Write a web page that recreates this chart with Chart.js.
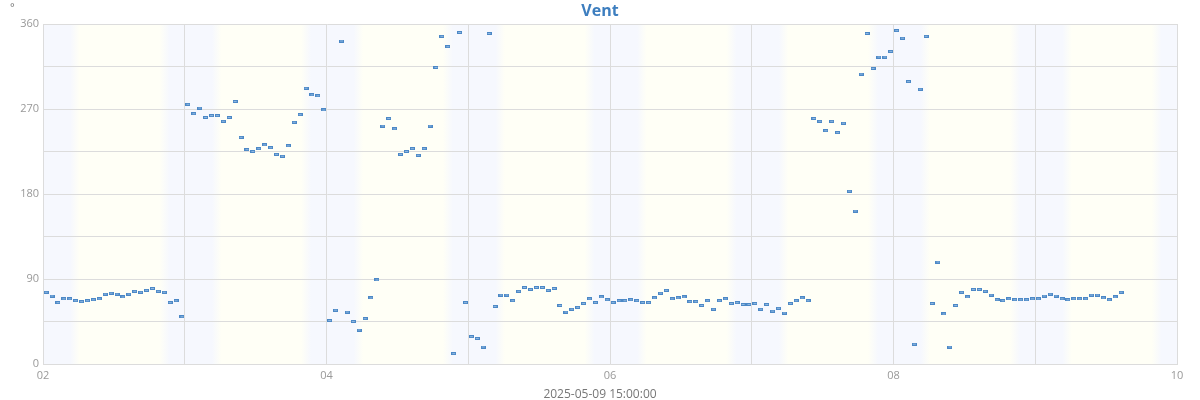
<!DOCTYPE html>
<html lang="fr">
<head>
<meta charset="utf-8">
<title>Vent</title>
<script src="https://cdn.jsdelivr.net/npm/chart.js@4.4.1/dist/chart.umd.min.js"></script>
<style>
  body { margin: 0; background: #fff; }
  #graphe { display: block; }
</style>
</head>
<body>
<canvas id="graphe" width="1200" height="400"></canvas>
<script>
// direction du vent (°), une mesure par heure, relevée à HH:32
const premiereMesure = Date.UTC(2025, 4, 2, 0, 32)
const pasMesure = 3600 * 1000

const vent02 = [76, 72, 65, 69, 69, 67, 66, 67, 68, 69, 74, 75, 74, 71, 74, 77, 76, 78, 80, 77, 76, 65, 67, 50]
const vent03 = [275, 265, 271, 261, 263, 263, 257, 261, 278, 240, 227, 225, 228, 232, 229, 222, 220, 231, 256, 264, 292, 285, 284, 269]
const vent04 = [46, 57, 342, 55, 45, 36, 48, 70, 89, 252, 260, 249, 222, 225, 228, 221, 228, 252, 314, 347, 336, 11, 351, 65]
const vent05 = [29, 27, 18, 350, 61, 73, 73, 67, 77, 81, 79, 81, 81, 78, 80, 62, 55, 58, 60, 64, 69, 65, 71, 68]
const vent06 = [65, 67, 67, 68, 67, 65, 65, 70, 75, 78, 69, 70, 71, 66, 66, 62, 67, 58, 67, 69, 64, 65, 63, 63]
const vent07 = [64, 58, 63, 56, 59, 54, 64, 67, 70, 67, 260, 257, 247, 257, 245, 255, 183, 162, 307, 350, 313, 325, 325, 331]
const vent08 = [353, 345, 299, 21, 291, 347, 64, 108, 53, 18, 62, 76, 71, 79, 79, 77, 73, 68, 67, 69, 68, 68, 68, 69]
const vent09 = [69, 72, 74, 72, 69, 68, 69, 69, 69, 73, 73, 70, 68, 71, 76]

const directions = [].concat(vent02, vent03, vent04, vent05, vent06, vent07, vent08, vent09)

const graduationsY = [0, 90, 180, 270, 360]
const joursAffiches = [2, 4, 6, 8, 10]

const titre = 'Vent'
const uniteY = '°'
const titreX = '2025-05-09 15:00:00'

const debutAxe = Date.UTC(2025, 4, 2)
const finAxe = Date.UTC(2025, 4, 10)
const unJour = 24 * 3600 * 1000

// aube et crépuscule en heures (dégradé entre les deux valeurs)
const aube = [4.6, 6.2]
const crepuscule = [19.7, 21.4]

const couleurNuit = '#f6f8fe'
const couleurJour = '#fffff6'

const police = "'Open Sans', 'Noto Sans', sans-serif"

const points = directions.map(function(valeur, i) {
  return { x: premiereMesure + i * pasMesure, y: valeur }
})

// petite marque rectangulaire pour chaque mesure
const marque = document.createElement('canvas')
marque.width = 5
marque.height = 3
const cm = marque.getContext('2d')
cm.fillStyle = '#4c88c6'
cm.fillRect(0, 0, 5, 3)
cm.fillStyle = '#8fb8e2'
cm.fillRect(1, 1, 3, 1)

const fondJourNuit = {
  id: 'fondJourNuit',
  beforeDraw: function(chart) {
    const ctx = chart.ctx
    const zone = chart.chartArea
    const echelle = chart.scales.x
    ctx.save()
    ctx.beginPath()
    ctx.rect(zone.left, zone.top, zone.right - zone.left, zone.bottom - zone.top)
    ctx.clip()
    ctx.fillStyle = couleurNuit
    ctx.fillRect(zone.left, zone.top, zone.right - zone.left, zone.bottom - zone.top)
    for (let j = debutAxe; j < finAxe; j += unJour) {
      const x0 = echelle.getPixelForValue(j + aube[0] * 3600000)
      const x1 = echelle.getPixelForValue(j + aube[1] * 3600000)
      const x2 = echelle.getPixelForValue(j + crepuscule[0] * 3600000)
      const x3 = echelle.getPixelForValue(j + crepuscule[1] * 3600000)
      const degrade = ctx.createLinearGradient(x0, 0, x3, 0)
      const largeur = x3 - x0
      degrade.addColorStop(0, couleurNuit)
      degrade.addColorStop((x1 - x0) / largeur, couleurJour)
      degrade.addColorStop((x2 - x0) / largeur, couleurJour)
      degrade.addColorStop(1, couleurNuit)
      ctx.fillStyle = degrade
      ctx.fillRect(x0, zone.top, largeur, zone.bottom - zone.top)
    }
    ctx.restore()
  },
  // titre, unité et légende de l'axe x, centrés sur toute la largeur
  afterDraw: function(chart) {
    const ctx = chart.ctx
    const milieu = chart.width / 2
    ctx.save()
    ctx.textBaseline = 'alphabetic'

    ctx.fillStyle = '#3d7ebf'
    ctx.font = 'bold 16px ' + police
    ctx.textAlign = 'center'
    ctx.fillText(titre, milieu, 15.5)

    ctx.fillStyle = '#777'
    ctx.font = '12px ' + police
    ctx.fillText(titreX, milieu, 398)

    ctx.font = '11px ' + police
    ctx.textAlign = 'left'
    ctx.textBaseline = 'top'
    ctx.fillText(uniteY, 10, 2)
    ctx.restore()
  }
}

new Chart(document.getElementById('graphe'), {
  type: 'scatter',
  data: {
    datasets: [{
      data: points,
      pointStyle: marque,
      pointRadius: 3,
      showLine: false
    }]
  },
  options: {
    responsive: false,
    animation: false,
    layout: { padding: { top: 24, right: 23, bottom: 0, left: 0 } },
    plugins: {
      legend: { display: false },
      tooltip: { enabled: false },
      title: { display: false }
    },
    scales: {
      x: {
        type: 'linear',
        min: debutAxe,
        max: finAxe,
        afterFit: function(scale) { scale.height = 36 },
        grid: { color: '#dcdcdc', drawTicks: false },
        border: { color: '#dcdcdc' },
        ticks: {
          stepSize: unJour,
          maxRotation: 0,
          autoSkip: false,
          padding: 5,
          color: '#999',
          font: { family: police, size: 11 },
          callback: function(valeur) {
            const jour = new Date(valeur).getUTCDate()
            if (!joursAffiches.includes(jour)) return ''
            return String(jour).padStart(2, '0')
          }
        }
      },
      y: {
        min: 0,
        max: 360,
        afterFit: function(scale) { scale.width = 43 },
        grid: { color: '#dcdcdc', drawTicks: false },
        border: { color: '#dcdcdc' },
        ticks: {
          stepSize: 45,
          padding: 4,
          color: '#999',
          font: { family: police, size: 11 },
          callback: function(valeur) {
            return graduationsY.includes(valeur) ? valeur : ''
          }
        }
      }
    }
  },
  plugins: [fondJourNuit]
})
</script>
</body>
</html>
